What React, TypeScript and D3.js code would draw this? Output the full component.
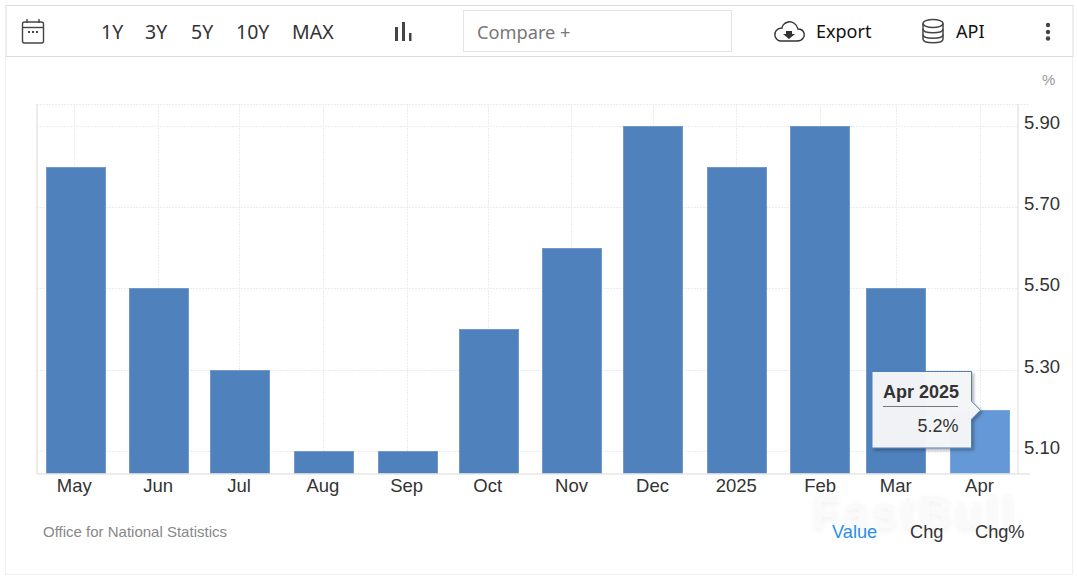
import React, { useEffect, useRef } from 'react';
import * as d3 from 'd3';

const months = [
  '2024-05-01', '2024-06-01', '2024-07-01', '2024-08-01', '2024-09-01', '2024-10-01',
  '2024-11-01', '2024-12-01', '2025-01-01', '2025-02-01', '2025-03-01', '2025-04-01',
];
const monthLabels = ['May', 'Jun', 'Jul', 'Aug', 'Sep', 'Oct', 'Nov', 'Dec', '2025', 'Feb', 'Mar', 'Apr'];
const rates = [5.8, 5.5, 5.3, 5.1, 5.1, 5.4, 5.6, 5.9, 5.8, 5.9, 5.5, 5.2];
const yTicks = [5.1, 5.3, 5.5, 5.7, 5.9];
const ranges = ['1Y', '3Y', '5Y', '10Y', 'MAX'];
const rangeX = [101, 145, 191, 236, 292];
const valueTabs = ['Value', 'Chg', 'Chg%'];
const valueTabX = [832, 910, 975];

const width = 1077;
const height = 577;
const plot = { left: 37, right: 1018, top: 104, bottom: 474 };
const barWidth = 60;
const sans = '"Liberation Sans", Arial, sans-serif';
const toolbarFont = '"Noto Sans", "Open Sans", sans-serif';

const App: React.FC = () => {
  const svgRef = useRef<SVGSVGElement>(null);

  useEffect(() => {
    const svg = d3.select(svgRef.current);
    svg.select('.chart').remove();
    const g = svg.append('g').attr('class', 'chart');

    const dates = months.map(d => new Date(d + 'T00:00:00Z'));
    const x = d3.scaleUtc().domain([dates[0], dates[dates.length - 1]]).range([74.3, 979.5]);
    // bars sit a touch right of their tick
    const xBar = d3.scaleUtc().domain([dates[0], dates[dates.length - 1]]).range([76, 980]);
    const y = d3.scaleLinear().domain([5.043, 5.954]).range([plot.bottom, plot.top]);

    // grid first, bars go over it
    const grid = g.append('g').attr('stroke', '#ececec').attr('stroke-dasharray', '2,1');
    grid
      .selectAll('line.v')
      .data(dates)
      .enter()
      .append('line')
      .attr('class', 'v')
      .attr('x1', d => Math.round(x(d)) + 0.5)
      .attr('x2', d => Math.round(x(d)) + 0.5)
      .attr('y1', plot.top)
      .attr('y2', plot.bottom);
    grid
      .selectAll('line.h')
      .data(yTicks)
      .enter()
      .append('line')
      .attr('class', 'h')
      .attr('x1', plot.left)
      .attr('x2', plot.right)
      .attr('y1', d => Math.round(y(d)) + 0.5)
      .attr('y2', d => Math.round(y(d)) + 0.5);
    grid
      .append('line')
      .attr('x1', plot.left)
      .attr('x2', 1030)
      .attr('y1', plot.top + 0.5)
      .attr('y2', plot.top + 0.5);

    g.selectAll('rect.bar')
      .data(rates)
      .enter()
      .append('rect')
      .attr('class', 'bar')
      .attr('x', (_, i) => Math.round(xBar(dates[i]) - barWidth / 2 - 0.3) + 0.5)
      .attr('y', d => Math.round(y(d)) + 0.5)
      .attr('width', barWidth - 1)
      .attr('height', d => plot.bottom - Math.round(y(d)) - 1)
      .attr('fill', (_, i) => (i === rates.length - 1 ? '#6598d6' : '#4f81bd'))
      .attr('stroke', (_, i) => (i === rates.length - 1 ? '#7ba6dc' : '#7399cb'))
      .attr('stroke-width', 1);

    // axis lines
    const lines = g.append('g').attr('stroke', '#e6e6e6').attr('stroke-width', 1.5);
    lines.append('line').attr('x1', plot.left).attr('x2', plot.left).attr('y1', plot.top).attr('y2', plot.bottom);
    lines.append('line').attr('x1', plot.right).attr('x2', plot.right).attr('y1', plot.top).attr('y2', plot.bottom);
    lines.append('line').attr('x1', plot.left).attr('x2', 1030).attr('y1', plot.bottom).attr('y2', plot.bottom);

    const xAxis = d3
      .axisBottom(x)
      .tickValues(dates)
      .tickSize(0)
      .tickPadding(5)
      .tickFormat((_, i) => monthLabels[i]);
    const xG = g.append('g').attr('transform', `translate(-0.5,${plot.bottom})`).call(xAxis as any);
    xG.select('.domain').remove();
    xG.selectAll('text').attr('font-family', sans).attr('font-size', 18.5).attr('fill', '#333');

    const yAxis = d3
      .axisRight(y)
      .tickValues(yTicks)
      .tickSize(0)
      .tickPadding(0)
      .tickFormat(d => d3.format('.2f')(d as number));
    const yG = g.append('g').attr('transform', `translate(1024,-3.5)`).call(yAxis as any);
    yG.select('.domain').remove();
    yG.selectAll('text').attr('font-family', sans).attr('font-size', 18.5).attr('fill', '#333');

    // tooltip on the last bar
    const last = rates.length - 1;
    const tipX = x(dates[last]) + 1;
    const tipY = y(rates[last]);
    const tip = g.append('g').attr('filter', 'url(#tipShadow)');
    tip
      .append('path')
      .attr(
        'd',
        `M872,371.5 H971.5 V${tipY - 9} L${tipX},${tipY} L971.5,${tipY + 9} V448 H872 Z`,
      )
      .attr('fill', '#f5f6f8')
      .attr('fill-opacity', 0.97)
      .attr('stroke', '#4f81bd')
      .attr('stroke-width', 1);
    g.append('text')
      .attr('x', 921)
      .attr('y', 398)
      .attr('text-anchor', 'middle')
      .attr('font-family', sans)
      .attr('font-size', 18)
      .attr('font-weight', 700)
      .attr('fill', '#333')
      .text('Apr 2025');
    g.append('line')
      .attr('x1', 883)
      .attr('x2', 958)
      .attr('y1', 406.5)
      .attr('y2', 406.5)
      .attr('stroke', '#777');
    g.append('text')
      .attr('x', 958.5)
      .attr('y', 432)
      .attr('text-anchor', 'end')
      .attr('font-family', sans)
      .attr('font-size', 18)
      .attr('fill', '#333')
      .text(`${rates[last]}%`);
  }, []);

  return (
    <div style={{ position: 'absolute', left: 0, top: 0, width, height, overflow: 'hidden', background: '#fff' }}>
      <svg ref={svgRef} width={width} height={height} style={{ display: 'block' }}>
        <defs>
          <filter id="tipShadow" x="-20%" y="-20%" width="150%" height="150%">
            <feDropShadow dx="2" dy="2" stdDeviation="1.5" floodColor="#000" floodOpacity="0.3" />
          </filter>
          <filter id="markShadow" x="-10%" y="-30%" width="120%" height="160%">
            <feDropShadow dx="0" dy="3" stdDeviation="3" floodColor="#000" floodOpacity="0.06" />
          </filter>
        </defs>

        {/* card and toolbar */}
        <rect x={5.5} y={56.5} width={1067} height={518} fill="#fff" stroke="#f0f0f0" />
        <rect x={6} y={5.5} width={1067} height={51} fill="#fff" stroke="#dcdcdc" />

        {/* calendar icon */}
        <g fill="none" stroke="#444" strokeWidth={1.4}>
          <rect x={22.5} y={22} width={21} height={21} rx={2} />
          <line x1={22.5} x2={43.5} y1={27.5} y2={27.5} />
          <line x1={27} x2={27} y1={19} y2={23} />
          <line x1={39} x2={39} y1={19} y2={23} />
        </g>
        <g fill="#444">
          <rect x={28} y={31} width={2} height={2} />
          <rect x={32} y={31} width={2} height={2} />
          <rect x={36} y={31} width={2} height={2} />
        </g>

        <g fontFamily={toolbarFont} fontSize={19.5} fill="#333">
          {ranges.map((r, i) => (
            <text key={r} x={rangeX[i]} y={39}>
              {r}
            </text>
          ))}
        </g>

        {/* bar type icon */}
        <g fill="#444">
          <rect x={395} y={27} width={3} height={14} />
          <rect x={402} y={22} width={3} height={19} />
          <rect x={409} y={33} width={2.5} height={8} />
        </g>

        <rect x={463.5} y={10.5} width={268} height={41} fill="#fff" stroke="#e4e4e0" />
        <text x={477} y={39} fontFamily={toolbarFont} fontSize={18.2} fill="#777">
          Compare +
        </text>

        {/* cloud export icon */}
        <path
          d="M781,41 H797 C803,41 805,36 804,33 C803,30 800,29 798,29 C797,24 792,21 788,22 C784,23 782,26 782,28 C777,28 774,32 775,36 C776,39 778,41 781,41 Z"
          fill="none"
          stroke="#333"
          strokeWidth={1.4}
        />
        <path d="M786,31 H792 V34 H795 L789,39 L783,34 H786 Z" fill="#333" />
        <text x={816} y={38} fontFamily={toolbarFont} fontSize={18} fill="#111">
          Export
        </text>

        {/* database icon */}
        <g fill="none" stroke="#444" strokeWidth={1.5}>
          <ellipse cx={933} cy={23.5} rx={10} ry={4} />
          <path d="M923,23.5 V39 C923,44 943,44 943,39 V23.5" />
          <path d="M923,29 C923,34 943,34 943,29" />
          <path d="M923,34.5 C923,39.5 943,39.5 943,34.5" />
        </g>
        <text x={956} y={38} fontFamily={toolbarFont} fontSize={18} fill="#111">
          API
        </text>

        <g fill="#444">
          <circle cx={1048} cy={25} r={2.2} />
          <circle cx={1048} cy={32} r={2.2} />
          <circle cx={1048} cy={38.5} r={2.2} />
        </g>

        <text x={1042} y={85} fontFamily={sans} fontSize={15} fill="#999">
          %
        </text>

        {/* watermark */}
        <text
          x={812}
          y={528}
          fontFamily={sans}
          fontSize={46}
          fontWeight={700}
          letterSpacing={3}
          fill="#fafafa"
          filter="url(#markShadow)"
        >
          FastBull
        </text>

        <text x={43} y={537} fontFamily={sans} fontSize={15} fill="#888">
          Office for National Statistics
        </text>
        <g fontFamily={sans} fontSize={18.2}>
          {valueTabs.map((t, i) => (
            <text key={t} x={valueTabX[i]} y={538} fill={i === 0 ? '#2b8fe8' : '#333'}>
              {t}
            </text>
          ))}
        </g>
      </svg>
    </div>
  );
};

export default App;
